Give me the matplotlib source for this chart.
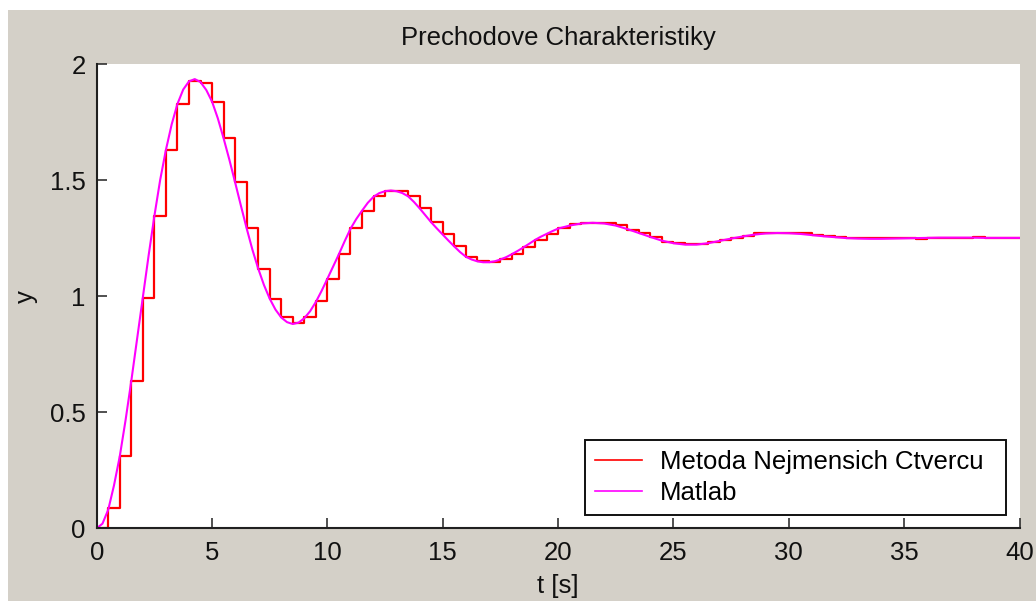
import numpy as np
import matplotlib
matplotlib.use("Agg")
import matplotlib.pyplot as plt
from matplotlib.patches import Rectangle

# ---- data ----
title_text = "Prechodove Charakteristiky"
xlabel_text = "t [s]"
ylabel_text = "y"
legend_labels = ["Metoda Nejmensich Ctvercu", "Matlab"]

x_ticks = [0, 5, 10, 15, 20, 25, 30, 35, 40]
y_ticks = [0, 0.5, 1, 1.5, 2]
y_tick_labels = ["0", "0.5", "1", "1.5", "2"]

# identified model (zero-order hold, Ts = 0.5 s)
t_stairs = np.arange(0, 40.5, 0.5)
y_stairs = [
    0.000, 0.086, 0.312, 0.633, 0.994, 1.346, 1.630, 1.828, 1.928, 1.918,
    1.838, 1.680, 1.490, 1.292, 1.119, 0.989, 0.912, 0.884, 0.912, 0.979,
    1.075, 1.181, 1.292, 1.368, 1.430, 1.454, 1.454, 1.430, 1.378, 1.318,
    1.267, 1.214, 1.169, 1.152, 1.147, 1.159, 1.181, 1.210, 1.242, 1.269,
    1.292, 1.310, 1.314, 1.317, 1.314, 1.306, 1.286, 1.271, 1.253, 1.235,
    1.228, 1.224, 1.224, 1.234, 1.242, 1.250, 1.260, 1.270, 1.274, 1.274,
    1.273, 1.271, 1.264, 1.259, 1.256, 1.252, 1.250, 1.249, 1.249, 1.249,
    1.249, 1.248, 1.250, 1.251, 1.252, 1.252, 1.256, 1.252, 1.252, 1.252,
    1.252,
]

# Matlab step response
t_matlab = np.concatenate([np.arange(0, 20.001, 0.25), np.arange(20.5, 40.001, 0.5)])
y_matlab = [
    0.000, 0.020, 0.080, 0.185, 0.310, 0.465, 0.635, 0.815, 0.995, 1.175,
    1.345, 1.500, 1.630, 1.740, 1.828, 1.890, 1.925, 1.935, 1.922, 1.888,
    1.838, 1.766, 1.680, 1.588, 1.490, 1.390, 1.292, 1.200, 1.119, 1.048,
    0.989, 0.942, 0.908, 0.888, 0.880, 0.886, 0.905, 0.935, 0.975, 1.023,
    1.075, 1.128, 1.181, 1.237, 1.290, 1.332, 1.368, 1.402, 1.428, 1.444,
    1.452, 1.455, 1.452, 1.444, 1.430, 1.406, 1.378, 1.348, 1.318, 1.291,
    1.265, 1.239, 1.214, 1.190, 1.170, 1.158, 1.150, 1.146, 1.146, 1.150,
    1.158, 1.168, 1.181, 1.195, 1.210, 1.226, 1.242, 1.256, 1.268, 1.280,
    1.291,
    1.304, 1.313, 1.316, 1.313, 1.304, 1.289, 1.272, 1.255, 1.239, 1.228,
    1.222, 1.222, 1.228, 1.238, 1.248, 1.257, 1.265, 1.270, 1.272, 1.271,
    1.268, 1.263, 1.258, 1.254, 1.250, 1.248, 1.247, 1.247, 1.248, 1.249,
    1.250, 1.251, 1.252, 1.252, 1.252, 1.252, 1.251, 1.251, 1.251, 1.251,
]

# ---- styling ----
W, H = 1036, 601
GREY = "#d4d0c8"
FS = 18.5
plt.rcParams["font.family"] = ["Liberation Sans", "DejaVu Sans"]

fig = plt.figure(figsize=(W / 100, H / 100), dpi=100, facecolor="white")
fig.patches.append(Rectangle((8 / W, 0), 1 - 8 / W, 1 - 10 / H,
                             transform=fig.transFigure, facecolor=GREY,
                             edgecolor="none", zorder=-10))

ax_l, ax_r, ax_t, ax_b = 96.7, 1019.5, 64.0, 528.3
ax_w, ax_h = ax_r - ax_l, ax_b - ax_t
ax = fig.add_axes([ax_l / W, 1 - ax_b / H, ax_w / W, ax_h / H])
ax.set_facecolor("white")

ax.step(t_stairs, y_stairs, where="post", color="#ff0000", lw=1.6,
        label=legend_labels[0])
ax.plot(t_matlab, y_matlab, color="#ff00ff", lw=1.5, label=legend_labels[1])

ax.set_xlim(0, 40)
ax.set_ylim(0, 2)
ax.set_xticks(x_ticks)
ax.set_xticklabels([str(v) for v in x_ticks])
ax.set_yticks(y_ticks)
ax.set_yticklabels(y_tick_labels)

for s in ["top", "right"]:
    ax.spines[s].set_visible(False)
for s in ["left", "bottom"]:
    ax.spines[s].set_linewidth(1.5)
    ax.spines[s].set_color("#202020")
ax.tick_params(direction="in", length=7.5, width=1.1, color="#202020",
               labelsize=FS, labelcolor="#111111")
ax.tick_params(axis="x", pad=9)
ax.tick_params(axis="y", pad=8)

ax.set_title(title_text, fontsize=FS, pad=14, color="#111111")
ax.set_xlabel(xlabel_text, fontsize=FS, color="#111111")
ax.set_ylabel(ylabel_text, fontsize=FS, color="#111111")
ax.xaxis.set_label_coords(0.5, (ax_b - 574) / ax_h)
ax.yaxis.set_label_coords((38 - ax_l) / ax_w, 0.5)

leg_x0, leg_x1, leg_y0, leg_y1 = 585, 1006, 515, 442
leg = ax.legend(loc="lower left", mode="expand",
                bbox_to_anchor=((leg_x0 - ax_l) / ax_w, (ax_b - leg_y0) / ax_h,
                                (leg_x1 - leg_x0) / ax_w, (leg_y0 - leg_y1) / ax_h),
                fontsize=FS, frameon=True, fancybox=False, shadow=False,
                borderaxespad=0, handlelength=1.8, handletextpad=0.72,
                borderpad=0.4, labelspacing=0.27)
leg.get_frame().set_edgecolor("#111111")
leg.get_frame().set_linewidth(1.4)
leg.get_frame().set_alpha(1)
for line in leg.get_lines():
    line.set_linewidth(1.2)

fig.savefig("out.png", dpi=100, facecolor=fig.get_facecolor())
